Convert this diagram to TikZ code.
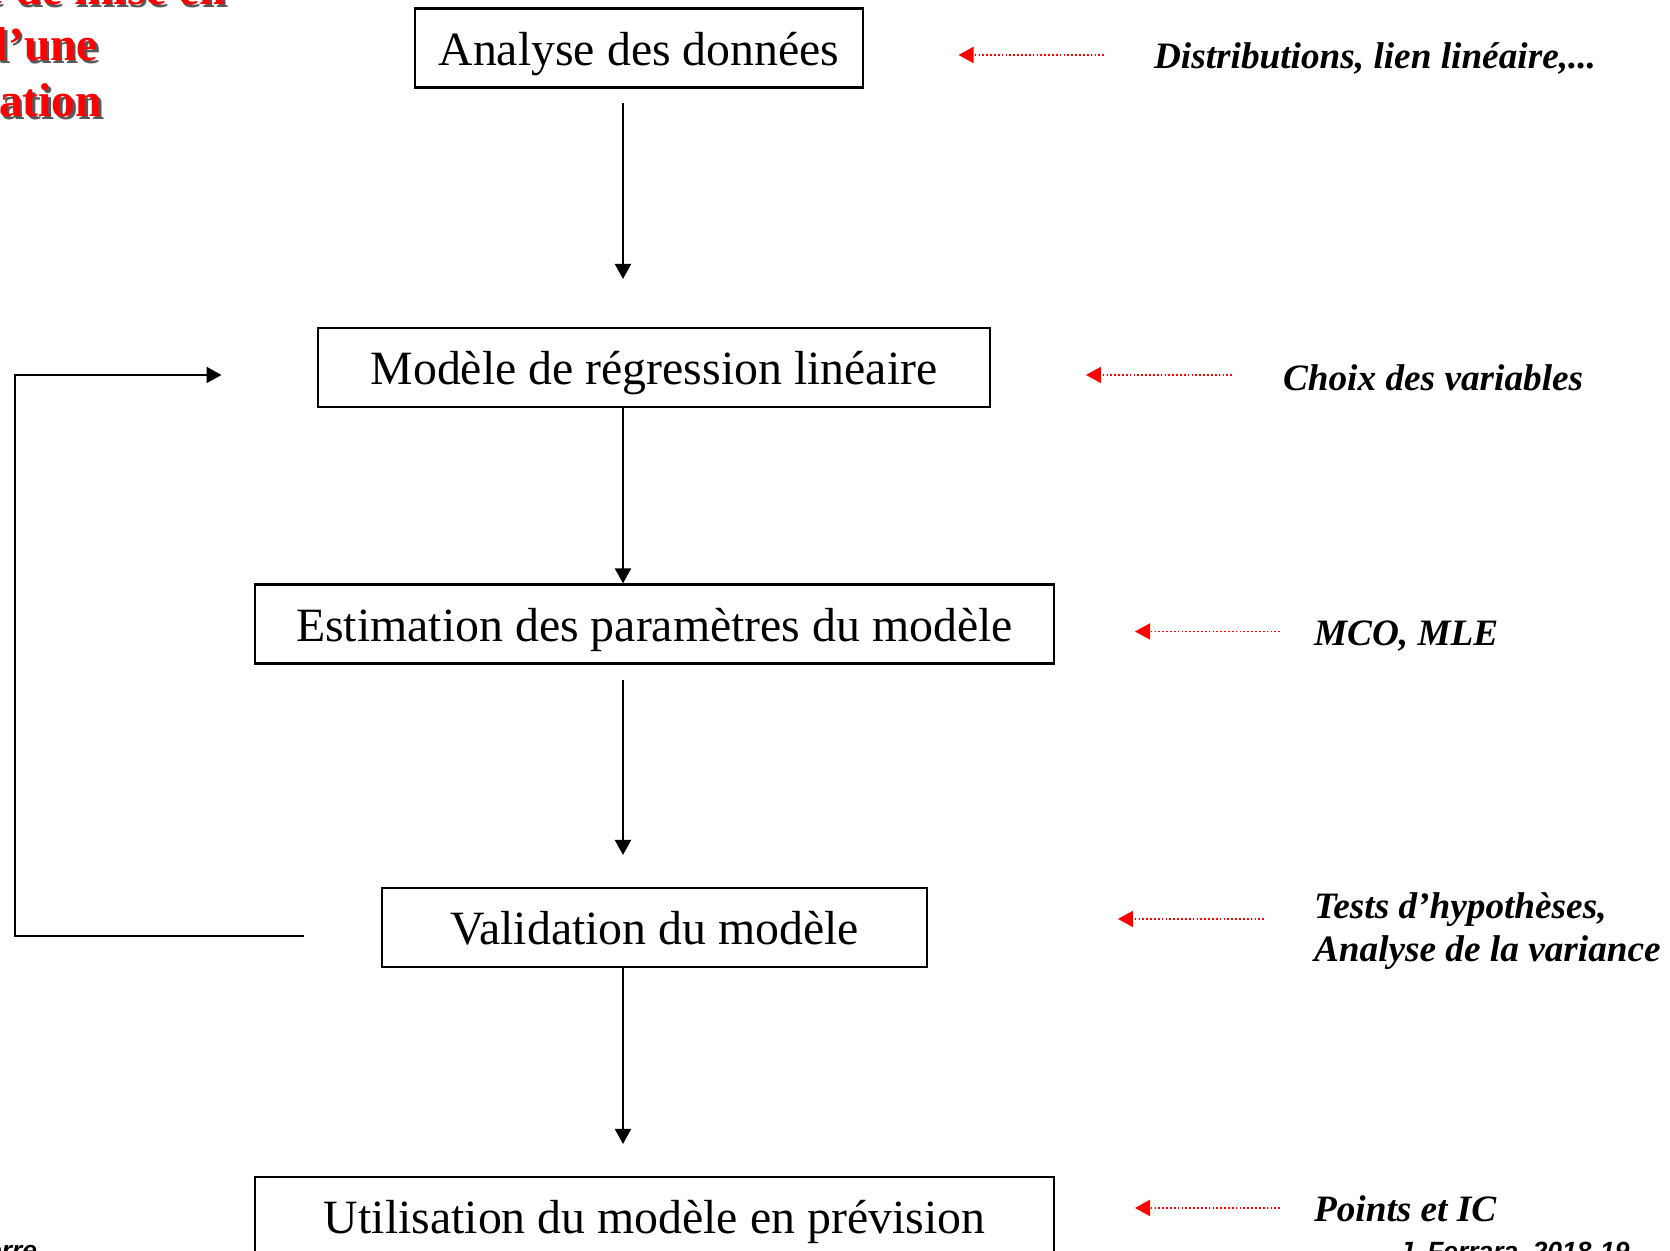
\documentclass[tikz,border=0pt]{standalone}
\usepackage{fontspec}
\setmainfont{Liberation Serif}
\setsansfont{Liberation Sans}
\usetikzlibrary{arrows.meta}

\begin{document}
\begin{tikzpicture}[>={Triangle[length=0.15cm,width=0.16cm]}, line width=0.6pt,
    box/.style={draw, minimum height=0.79cm, inner sep=0pt, text height=0.35cm, text depth=0cm, font=\fontsize{13.6}{16}\selectfont},
    nota/.style={anchor=base west, align=left, inner sep=0pt, font=\fontsize{10.6}{12.5}\selectfont\bfseries\itshape},
    rimando/.style={->, red, line width=0.5pt, dash pattern=on 0.5pt off 0.6pt},
    titolo/.style={anchor=base east, inner sep=0pt, font=\fontsize{13.5}{16}\selectfont\bfseries},
    piede/.style={inner sep=0pt, font=\sffamily\fontsize{7.5}{9}\selectfont\bfseries\itshape}]

    \useasboundingbox (0,0) rectangle (16.70,12.51);

    % Titolo (tagliato dal bordo)
    \foreach \riga/\x/\y in {Démarche de mise en/2.27/12.46, œuvre d’une/0.99/11.90, modélisation/1.03/11.34} {
        \node[titolo, black!65] at (\x+0.025,\y-0.025) {\riga};
        \node[titolo, red] at (\x,\y) {\riga};
    }

    % Riquadri
    \node[box, minimum width=4.48cm] (analyse) at (6.39,12.03) {Analyse des données};
    \node[box, minimum width=6.72cm] (modele) at (6.54,8.835) {Modèle de régression linéaire};
    \node[box, minimum width=7.99cm] (estim) at (6.545,6.27) {Estimation des paramètres du modèle};
    \node[box, minimum width=5.45cm] (valid) at (6.545,3.235) {Validation du modèle};
    \node[box, minimum width=7.99cm] (prev) at (6.545,0.345) {Utilisation du modèle en prévision};

    % Frecce principali
    \coordinate (a1) at (6.23,11.48);
    \coordinate (a2) at (6.23,9.72);
    \coordinate (a3) at (6.23,5.71);
    \coordinate (a4) at (6.23,3.96);
    \coordinate (a5) at (6.23,1.07);
    \draw[->] (a1) -- (a2);
    \draw[->] (modele.south -| a1) -- (estim.north -| a1);
    \draw[->] (a3) -- (a4);
    \draw[->] (valid.south -| a1) -- (a5);

    % Ritorno
    \coordinate (r0) at (3.035,3.15);
    \coordinate (r1) at (0.15,3.15);
    \coordinate (r2) at (0.15,8.76);
    \coordinate (r3) at (2.215,8.76);
    \draw[->] (r0) -- (r1) -- (r2) -- (r3);

    % Note a destra
    \node[nota] (n1) at (11.53,11.82) {Distributions, lien linéaire,...};
    \node[nota] (n2) at (12.82,8.60) {Choix des variables};
    \node[nota] (n3) at (13.13,6.05) {MCO, MLE};
    \node[nota] (n4) at (13.13,2.89) {Tests d’hypothèses,\\Analyse de la variance};
    \node[nota] (n5) at (13.13,0.295) {Points et IC};

    % Rimandi rossi
    \coordinate (c1) at (11.04,11.96);  \coordinate (t1) at (9.585,11.96);
    \coordinate (c2) at (12.32,8.76);   \coordinate (t2) at (10.86,8.76);
    \coordinate (c3) at (12.80,6.195);  \coordinate (t3) at (11.35,6.195);
    \coordinate (c4) at (12.64,3.32);   \coordinate (t4) at (11.18,3.32);
    \coordinate (c5) at (12.80,0.43);   \coordinate (t5) at (11.35,0.43);
    \foreach \i in {1,...,5}
        \draw[rimando] (c\i) -- (t\i);

    % Piede
    \node[piede, anchor=base east] (autore) at (0.38,-0.09) {Pierre};
    \node[piede, anchor=base west] (anno) at (13.97,-0.10) {J. Ferrara, 2018-19};

\end{tikzpicture}
\end{document}
